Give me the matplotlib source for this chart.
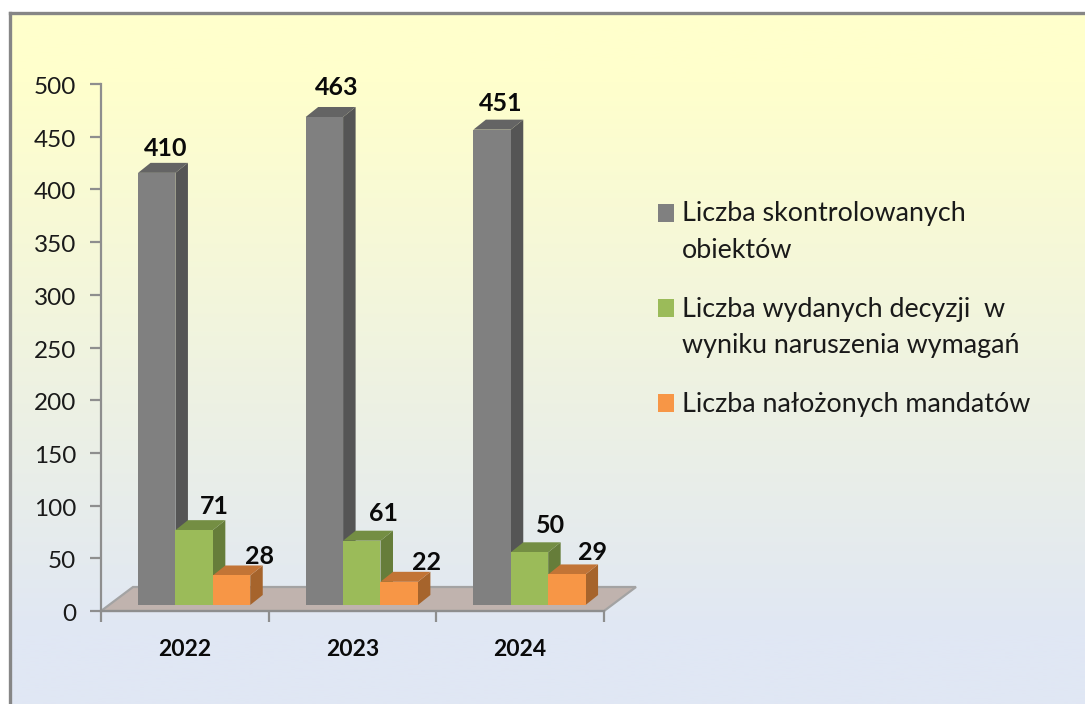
import numpy as np
import matplotlib
matplotlib.use("Agg")
import matplotlib.pyplot as plt
from matplotlib.patches import Polygon, Rectangle
from matplotlib.colors import LinearSegmentedColormap
from matplotlib.transforms import ScaledTranslation

plt.rcParams['font.family'] = ['Lato', 'DejaVu Sans']

years = ['2022', '2023', '2024']
series_names = ['Liczba skontrolowanych\nobiektów',
                'Liczba wydanych decyzji  w\nwyniku naruszenia wymagań',
                'Liczba nałożonych mandatów']
controlled = [410, 463, 451]
decisions = [71, 61, 50]
fines = [28, 22, 29]
all_series = [controlled, decisions, fines]
y_ticks = [0, 50, 100, 150, 200, 250, 300, 350, 400, 450, 500]

# hand-placed data label nudges (pixels from the front-top centre of each bar)
label_dx = [[9, 12, 9], [20, 22, 21], [28, 27, 26]]
label_dy = [[24, 29, 26], [24, 27, 27], [19, 19, 22]]

W, H = 1085, 704
fig = plt.figure(figsize=(W / 100, H / 100), dpi=100, facecolor='white')

def fx(px): return px / W
def fy(py): return 1 - py / H

# panel with gradient
bg = fig.add_axes([fx(10), 0, 1 - fx(10), fy(13)], zorder=0)
cmap = LinearSegmentedColormap.from_list('bg', [(0, '#FFFFCC'), (0.1, '#FFFFCC'), (0.9, '#E0E7F4'), (1, '#E0E7F4')])
bg.imshow(np.linspace(0, 1, 256)[:, None], aspect='auto', cmap=cmap, extent=[0, 1, 0, 1])
bg.set_xticks([]); bg.set_yticks([])
for s in bg.spines.values():
    s.set_color('#868686'); s.set_linewidth(2.4)
bg.spines['right'].set_visible(False)
bg.spines['bottom'].set_visible(False)

# plot area
ax = fig.add_axes([fx(101), fy(611), fx(604) - fx(101), fy(84) - fy(611)], zorder=1)
ax.patch.set_alpha(0)
ax.set_xlim(0, 3)
ax.set_ylim(0, 500)
xpx = 503 / 3      # pixels per category
ypx = 527 / 500    # pixels per value unit
def ux(px): return px / xpx
def uy(px): return px / ypx

# floor
floor_dx, floor_dy = ux(32), uy(24)
ax.add_patch(Polygon([(0, 0), (3, 0), (3 + floor_dx, floor_dy), (floor_dx, floor_dy)],
                     closed=True, facecolor='#C0B3AE', edgecolor='#A3A3A3', lw=1.6,
                     clip_on=False, zorder=1))

# bars
front = ['#808080', '#9BBB59', '#F79646']
side = ['#555555', '#667D3A', '#A6642C']
top = ['#646464', '#748E43', '#C27436']
bar_w = ux(37.4)
off_x, off_y = ux(9.3), uy(6)
dep_x, dep_y = ux(12.5), uy(10)
for g in range(3):
    x0 = g + 0.5 - 1.5 * bar_w + off_x
    for s, vals in enumerate(all_series):
        v = vals[g]
        l = x0 + s * bar_w
        r = l + bar_w
        b = off_y
        t = off_y + v
        z = 3 + s
        ax.add_patch(Polygon([(r, b), (r + dep_x, b + dep_y), (r + dep_x, t + dep_y), (r, t)],
                             facecolor=side[s], edgecolor='none', clip_on=False, zorder=z))
        ax.add_patch(Polygon([(l, t), (r, t), (r + dep_x, t + dep_y), (l + dep_x, t + dep_y)],
                             facecolor=top[s], edgecolor='none', clip_on=False, zorder=z))
        ax.bar(l, v, width=bar_w, bottom=b, align='edge', color=front[s], zorder=z + 0.1, clip_on=False)
        ax.text(l + bar_w / 2 + ux(label_dx[s][g]), t + uy(label_dy[s][g]), str(v),
                ha='center', va='center', fontsize=18, fontweight='bold', color='#0A0A0A',
                zorder=10, clip_on=False)

# axes
for name in ['top', 'right']:
    ax.spines[name].set_visible(False)
for name in ['left', 'bottom']:
    ax.spines[name].set_color('#8E8E8E'); ax.spines[name].set_linewidth(1.6)
ax.spines['bottom'].set_zorder(2)
ax.set_yticks(y_ticks)
ax.set_xticks([0, 1, 2, 3])
ax.set_xticklabels([])
ax.tick_params(axis='y', length=8, width=1.6, color='#8E8E8E', labelsize=17.5, labelcolor='#1A1A1A', pad=10)
ax.tick_params(axis='x', length=8, width=1.6, color='#8E8E8E', direction='out')
shift = ScaledTranslation(0, -1.5 / 100, fig.dpi_scale_trans)
for lab in ax.get_yticklabels():
    lab.set_transform(lab.get_transform() + shift)
for g, yr in enumerate(years):
    ax.text(g + 0.5, -uy(38), yr, ha='center', va='center', fontsize=16.5, fontweight='bold',
            color='#0A0A0A', clip_on=False)

# legend
leg_y = [212.5, 308, 403]
for s, name in enumerate(series_names):
    y = leg_y[s]
    fig.add_artist(Rectangle((fx(658), fy(y + 9)), 15.5 / W, 18 / H, transform=fig.transFigure,
                             facecolor=front[s], edgecolor='none', zorder=5))
    fig.text(fx(682), fy(y - 11), name, ha='left', va='top', fontsize=19.4, color='#1A1A1A',
             linespacing=1.56, zorder=5)

fig.savefig('out.png', dpi=100)
